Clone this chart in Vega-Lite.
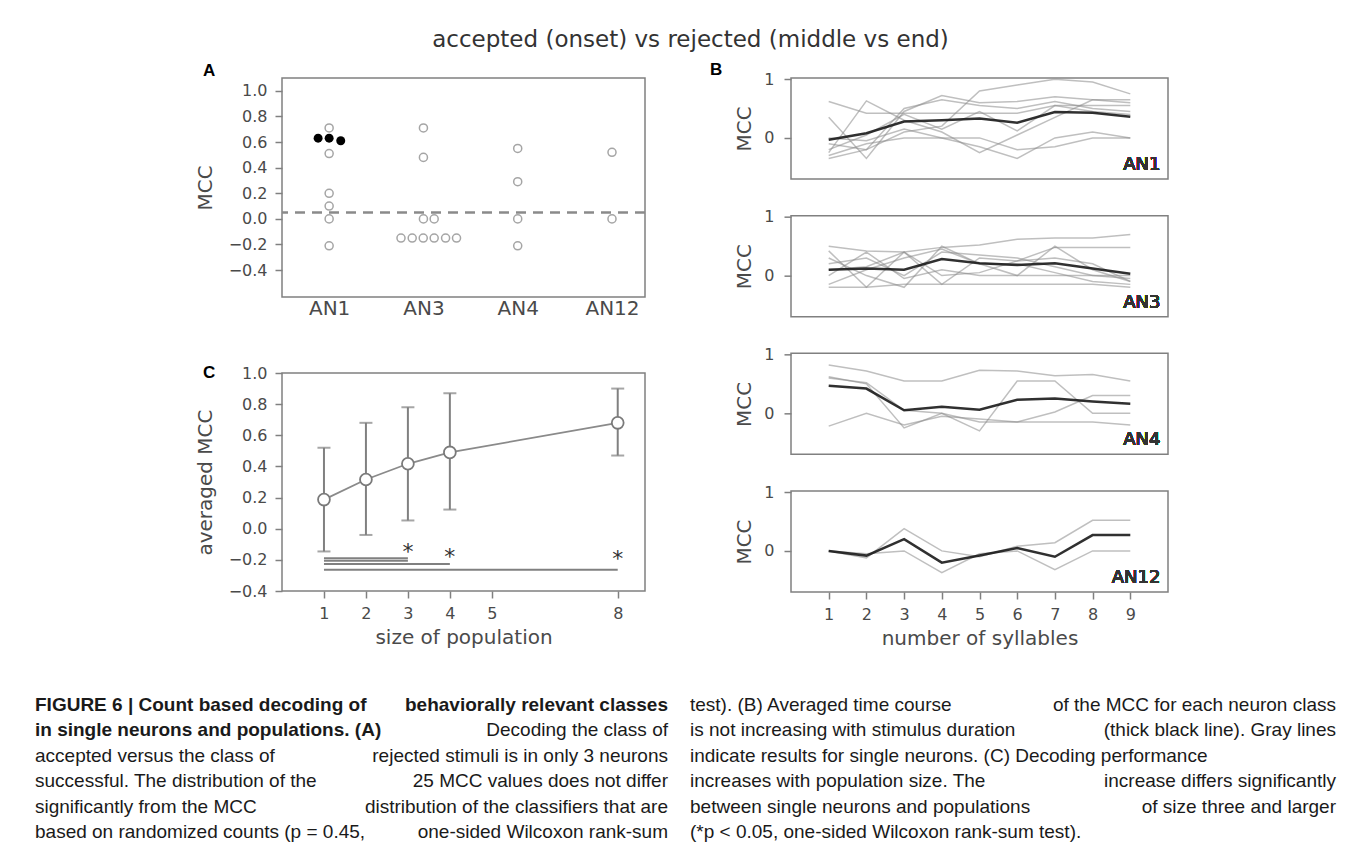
{
  "$schema": "https://vega.github.io/schema/vega-lite/v6.json",
  "padding": {"left": 35, "top": 29, "right": 5, "bottom": 0},
  "background": "white",
  "config": {
    "view": {"stroke": "#808080", "strokeWidth": 1.5},
    "axis": {"domain": false, "grid": false, "labelOverlap": false, "tickColor": "#808080", "tickWidth": 1.5, "tickSize": 7, "labelColor": "#4a4a4a", "labelFont": "DejaVu Sans", "labelFontSize": 16, "titleFont": "DejaVu Sans", "titleFontSize": 20, "titleFontWeight": "normal", "titleColor": "#4a4a4a", "labelPadding": 8}
  },
  "datasets": {
    "a": [
      {"cls": "AN1", "pos": 0, "mcc": 0.71, "sig": false},
      {"cls": "AN1", "pos": 0, "mcc": 0.51, "sig": false},
      {"cls": "AN1", "pos": 0, "mcc": 0.2, "sig": false},
      {"cls": "AN1", "pos": 0, "mcc": 0.1, "sig": false},
      {"cls": "AN1", "pos": 0, "mcc": 0.0, "sig": false},
      {"cls": "AN1", "pos": 0, "mcc": -0.21, "sig": false},
      {"cls": "AN1", "pos": -0.117, "mcc": 0.63, "sig": true},
      {"cls": "AN1", "pos": 0, "mcc": 0.63, "sig": true},
      {"cls": "AN1", "pos": 0.123, "mcc": 0.61, "sig": true},
      {"cls": "AN3", "pos": 1, "mcc": 0.71, "sig": false},
      {"cls": "AN3", "pos": 1, "mcc": 0.48, "sig": false},
      {"cls": "AN3", "pos": 1, "mcc": 0.0, "sig": false},
      {"cls": "AN3", "pos": 1.114, "mcc": 0.0, "sig": false},
      {"cls": "AN3", "pos": 0.762, "mcc": -0.15, "sig": false},
      {"cls": "AN3", "pos": 0.881, "mcc": -0.15, "sig": false},
      {"cls": "AN3", "pos": 0.998, "mcc": -0.15, "sig": false},
      {"cls": "AN3", "pos": 1.114, "mcc": -0.15, "sig": false},
      {"cls": "AN3", "pos": 1.235, "mcc": -0.15, "sig": false},
      {"cls": "AN3", "pos": 1.351, "mcc": -0.15, "sig": false},
      {"cls": "AN4", "pos": 2, "mcc": 0.55, "sig": false},
      {"cls": "AN4", "pos": 2, "mcc": 0.29, "sig": false},
      {"cls": "AN4", "pos": 2, "mcc": 0.0, "sig": false},
      {"cls": "AN4", "pos": 2, "mcc": -0.21, "sig": false},
      {"cls": "AN12", "pos": 3, "mcc": 0.52, "sig": false},
      {"cls": "AN12", "pos": 3, "mcc": 0.0, "sig": false}
    ],
    "c": [
      {"n": 1, "mean": 0.187, "lo": -0.146, "hi": 0.52},
      {"n": 2, "mean": 0.316, "lo": -0.04, "hi": 0.68},
      {"n": 3, "mean": 0.417, "lo": 0.053, "hi": 0.78},
      {"n": 4, "mean": 0.49, "lo": 0.123, "hi": 0.87},
      {"n": 8, "mean": 0.68, "lo": 0.47, "hi": 0.9}
    ],
    "sig": [
      {"from": 1, "to": 3, "y": -0.19},
      {"from": 1, "to": 3, "y": -0.206},
      {"from": 1, "to": 4, "y": -0.226},
      {"from": 1, "to": 8, "y": -0.263}
    ],
    "stars": [
      {"n": 3, "y": -0.15},
      {"n": 4, "y": -0.18},
      {"n": 8, "y": -0.195}
    ],
    "b": [
      {"cls": "AN1", "line": "g1", "syl": 1, "mcc": 0.62}, {"cls": "AN1", "line": "g1", "syl": 2, "mcc": 0.42}, {"cls": "AN1", "line": "g1", "syl": 3, "mcc": 0.42}, {"cls": "AN1", "line": "g1", "syl": 4, "mcc": 0.42}, {"cls": "AN1", "line": "g1", "syl": 5, "mcc": 0.42}, {"cls": "AN1", "line": "g1", "syl": 6, "mcc": 0.42}, {"cls": "AN1", "line": "g1", "syl": 7, "mcc": 0.55}, {"cls": "AN1", "line": "g1", "syl": 8, "mcc": 0.55}, {"cls": "AN1", "line": "g1", "syl": 9, "mcc": 0.55},
      {"cls": "AN1", "line": "g2", "syl": 1, "mcc": -0.25}, {"cls": "AN1", "line": "g2", "syl": 2, "mcc": 0.63}, {"cls": "AN1", "line": "g2", "syl": 3, "mcc": 0.3}, {"cls": "AN1", "line": "g2", "syl": 4, "mcc": 0.1}, {"cls": "AN1", "line": "g2", "syl": 5, "mcc": -0.25}, {"cls": "AN1", "line": "g2", "syl": 6, "mcc": 0.05}, {"cls": "AN1", "line": "g2", "syl": 7, "mcc": 0.35}, {"cls": "AN1", "line": "g2", "syl": 8, "mcc": 0.65}, {"cls": "AN1", "line": "g2", "syl": 9, "mcc": 0.65},
      {"cls": "AN1", "line": "g3", "syl": 1, "mcc": 0.35}, {"cls": "AN1", "line": "g3", "syl": 2, "mcc": -0.35}, {"cls": "AN1", "line": "g3", "syl": 3, "mcc": 0.45}, {"cls": "AN1", "line": "g3", "syl": 4, "mcc": 0.72}, {"cls": "AN1", "line": "g3", "syl": 5, "mcc": 0.6}, {"cls": "AN1", "line": "g3", "syl": 6, "mcc": 0.62}, {"cls": "AN1", "line": "g3", "syl": 7, "mcc": 0.7}, {"cls": "AN1", "line": "g3", "syl": 8, "mcc": 0.65}, {"cls": "AN1", "line": "g3", "syl": 9, "mcc": 0.6},
      {"cls": "AN1", "line": "g4", "syl": 1, "mcc": -0.1}, {"cls": "AN1", "line": "g4", "syl": 2, "mcc": -0.2}, {"cls": "AN1", "line": "g4", "syl": 3, "mcc": 0.5}, {"cls": "AN1", "line": "g4", "syl": 4, "mcc": 0.65}, {"cls": "AN1", "line": "g4", "syl": 5, "mcc": 0.55}, {"cls": "AN1", "line": "g4", "syl": 6, "mcc": 0.5}, {"cls": "AN1", "line": "g4", "syl": 7, "mcc": 0.62}, {"cls": "AN1", "line": "g4", "syl": 8, "mcc": 0.5}, {"cls": "AN1", "line": "g4", "syl": 9, "mcc": 0.45},
      {"cls": "AN1", "line": "g5", "syl": 1, "mcc": -0.3}, {"cls": "AN1", "line": "g5", "syl": 2, "mcc": -0.1}, {"cls": "AN1", "line": "g5", "syl": 3, "mcc": 0.0}, {"cls": "AN1", "line": "g5", "syl": 4, "mcc": 0.0}, {"cls": "AN1", "line": "g5", "syl": 5, "mcc": 0.0}, {"cls": "AN1", "line": "g5", "syl": 6, "mcc": -0.2}, {"cls": "AN1", "line": "g5", "syl": 7, "mcc": -0.15}, {"cls": "AN1", "line": "g5", "syl": 8, "mcc": 0.0}, {"cls": "AN1", "line": "g5", "syl": 9, "mcc": 0.0},
      {"cls": "AN1", "line": "g6", "syl": 1, "mcc": -0.35}, {"cls": "AN1", "line": "g6", "syl": 2, "mcc": -0.2}, {"cls": "AN1", "line": "g6", "syl": 3, "mcc": 0.1}, {"cls": "AN1", "line": "g6", "syl": 4, "mcc": 0.2}, {"cls": "AN1", "line": "g6", "syl": 5, "mcc": 0.8}, {"cls": "AN1", "line": "g6", "syl": 6, "mcc": 0.9}, {"cls": "AN1", "line": "g6", "syl": 7, "mcc": 1.0}, {"cls": "AN1", "line": "g6", "syl": 8, "mcc": 0.95}, {"cls": "AN1", "line": "g6", "syl": 9, "mcc": 0.75},
      {"cls": "AN1", "line": "g7", "syl": 1, "mcc": 0.0}, {"cls": "AN1", "line": "g7", "syl": 2, "mcc": -0.05}, {"cls": "AN1", "line": "g7", "syl": 3, "mcc": 0.15}, {"cls": "AN1", "line": "g7", "syl": 4, "mcc": 0.0}, {"cls": "AN1", "line": "g7", "syl": 5, "mcc": -0.15}, {"cls": "AN1", "line": "g7", "syl": 6, "mcc": -0.35}, {"cls": "AN1", "line": "g7", "syl": 7, "mcc": 0.0}, {"cls": "AN1", "line": "g7", "syl": 8, "mcc": 0.1}, {"cls": "AN1", "line": "g7", "syl": 9, "mcc": 0.0},
      {"cls": "AN1", "line": "g8", "syl": 1, "mcc": -0.2}, {"cls": "AN1", "line": "g8", "syl": 2, "mcc": 0.05}, {"cls": "AN1", "line": "g8", "syl": 3, "mcc": 0.4}, {"cls": "AN1", "line": "g8", "syl": 4, "mcc": 0.15}, {"cls": "AN1", "line": "g8", "syl": 5, "mcc": 0.45}, {"cls": "AN1", "line": "g8", "syl": 6, "mcc": 0.12}, {"cls": "AN1", "line": "g8", "syl": 7, "mcc": 0.55}, {"cls": "AN1", "line": "g8", "syl": 8, "mcc": 0.45}, {"cls": "AN1", "line": "g8", "syl": 9, "mcc": 0.4},
      {"cls": "AN1", "line": "mean", "syl": 1, "mcc": -0.03}, {"cls": "AN1", "line": "mean", "syl": 2, "mcc": 0.08}, {"cls": "AN1", "line": "mean", "syl": 3, "mcc": 0.28}, {"cls": "AN1", "line": "mean", "syl": 4, "mcc": 0.3}, {"cls": "AN1", "line": "mean", "syl": 5, "mcc": 0.33}, {"cls": "AN1", "line": "mean", "syl": 6, "mcc": 0.26}, {"cls": "AN1", "line": "mean", "syl": 7, "mcc": 0.44}, {"cls": "AN1", "line": "mean", "syl": 8, "mcc": 0.43}, {"cls": "AN1", "line": "mean", "syl": 9, "mcc": 0.36},
      {"cls": "AN3", "line": "h1", "syl": 1, "mcc": 0.5}, {"cls": "AN3", "line": "h1", "syl": 2, "mcc": 0.42}, {"cls": "AN3", "line": "h1", "syl": 3, "mcc": 0.4}, {"cls": "AN3", "line": "h1", "syl": 4, "mcc": 0.48}, {"cls": "AN3", "line": "h1", "syl": 5, "mcc": 0.52}, {"cls": "AN3", "line": "h1", "syl": 6, "mcc": 0.62}, {"cls": "AN3", "line": "h1", "syl": 7, "mcc": 0.64}, {"cls": "AN3", "line": "h1", "syl": 8, "mcc": 0.64}, {"cls": "AN3", "line": "h1", "syl": 9, "mcc": 0.7},
      {"cls": "AN3", "line": "h2", "syl": 1, "mcc": 0.42}, {"cls": "AN3", "line": "h2", "syl": 2, "mcc": -0.2}, {"cls": "AN3", "line": "h2", "syl": 3, "mcc": 0.4}, {"cls": "AN3", "line": "h2", "syl": 4, "mcc": 0.0}, {"cls": "AN3", "line": "h2", "syl": 5, "mcc": 0.05}, {"cls": "AN3", "line": "h2", "syl": 6, "mcc": 0.25}, {"cls": "AN3", "line": "h2", "syl": 7, "mcc": 0.48}, {"cls": "AN3", "line": "h2", "syl": 8, "mcc": 0.48}, {"cls": "AN3", "line": "h2", "syl": 9, "mcc": 0.48},
      {"cls": "AN3", "line": "h3", "syl": 1, "mcc": 0.3}, {"cls": "AN3", "line": "h3", "syl": 2, "mcc": 0.0}, {"cls": "AN3", "line": "h3", "syl": 3, "mcc": -0.2}, {"cls": "AN3", "line": "h3", "syl": 4, "mcc": 0.5}, {"cls": "AN3", "line": "h3", "syl": 5, "mcc": 0.2}, {"cls": "AN3", "line": "h3", "syl": 6, "mcc": 0.0}, {"cls": "AN3", "line": "h3", "syl": 7, "mcc": 0.5}, {"cls": "AN3", "line": "h3", "syl": 8, "mcc": 0.1}, {"cls": "AN3", "line": "h3", "syl": 9, "mcc": -0.1},
      {"cls": "AN3", "line": "h4", "syl": 1, "mcc": -0.2}, {"cls": "AN3", "line": "h4", "syl": 2, "mcc": -0.2}, {"cls": "AN3", "line": "h4", "syl": 3, "mcc": -0.15}, {"cls": "AN3", "line": "h4", "syl": 4, "mcc": -0.15}, {"cls": "AN3", "line": "h4", "syl": 5, "mcc": -0.15}, {"cls": "AN3", "line": "h4", "syl": 6, "mcc": -0.15}, {"cls": "AN3", "line": "h4", "syl": 7, "mcc": -0.15}, {"cls": "AN3", "line": "h4", "syl": 8, "mcc": -0.15}, {"cls": "AN3", "line": "h4", "syl": 9, "mcc": -0.2},
      {"cls": "AN3", "line": "h5", "syl": 1, "mcc": 0.0}, {"cls": "AN3", "line": "h5", "syl": 2, "mcc": 0.4}, {"cls": "AN3", "line": "h5", "syl": 3, "mcc": -0.05}, {"cls": "AN3", "line": "h5", "syl": 4, "mcc": 0.1}, {"cls": "AN3", "line": "h5", "syl": 5, "mcc": 0.0}, {"cls": "AN3", "line": "h5", "syl": 6, "mcc": 0.0}, {"cls": "AN3", "line": "h5", "syl": 7, "mcc": 0.0}, {"cls": "AN3", "line": "h5", "syl": 8, "mcc": 0.0}, {"cls": "AN3", "line": "h5", "syl": 9, "mcc": -0.05},
      {"cls": "AN3", "line": "h6", "syl": 1, "mcc": 0.1}, {"cls": "AN3", "line": "h6", "syl": 2, "mcc": 0.15}, {"cls": "AN3", "line": "h6", "syl": 3, "mcc": 0.4}, {"cls": "AN3", "line": "h6", "syl": 4, "mcc": -0.15}, {"cls": "AN3", "line": "h6", "syl": 5, "mcc": 0.3}, {"cls": "AN3", "line": "h6", "syl": 6, "mcc": 0.25}, {"cls": "AN3", "line": "h6", "syl": 7, "mcc": 0.3}, {"cls": "AN3", "line": "h6", "syl": 8, "mcc": 0.2}, {"cls": "AN3", "line": "h6", "syl": 9, "mcc": -0.1},
      {"cls": "AN3", "line": "h7", "syl": 1, "mcc": -0.15}, {"cls": "AN3", "line": "h7", "syl": 2, "mcc": 0.1}, {"cls": "AN3", "line": "h7", "syl": 3, "mcc": 0.3}, {"cls": "AN3", "line": "h7", "syl": 4, "mcc": 0.45}, {"cls": "AN3", "line": "h7", "syl": 5, "mcc": 0.2}, {"cls": "AN3", "line": "h7", "syl": 6, "mcc": 0.2}, {"cls": "AN3", "line": "h7", "syl": 7, "mcc": 0.05}, {"cls": "AN3", "line": "h7", "syl": 8, "mcc": -0.1}, {"cls": "AN3", "line": "h7", "syl": 9, "mcc": -0.15},
      {"cls": "AN3", "line": "h8", "syl": 1, "mcc": 0.2}, {"cls": "AN3", "line": "h8", "syl": 2, "mcc": 0.3}, {"cls": "AN3", "line": "h8", "syl": 3, "mcc": 0.0}, {"cls": "AN3", "line": "h8", "syl": 4, "mcc": 0.4}, {"cls": "AN3", "line": "h8", "syl": 5, "mcc": 0.35}, {"cls": "AN3", "line": "h8", "syl": 6, "mcc": 0.3}, {"cls": "AN3", "line": "h8", "syl": 7, "mcc": 0.15}, {"cls": "AN3", "line": "h8", "syl": 8, "mcc": 0.0}, {"cls": "AN3", "line": "h8", "syl": 9, "mcc": 0.0},
      {"cls": "AN3", "line": "mean", "syl": 1, "mcc": 0.1}, {"cls": "AN3", "line": "mean", "syl": 2, "mcc": 0.12}, {"cls": "AN3", "line": "mean", "syl": 3, "mcc": 0.1}, {"cls": "AN3", "line": "mean", "syl": 4, "mcc": 0.28}, {"cls": "AN3", "line": "mean", "syl": 5, "mcc": 0.21}, {"cls": "AN3", "line": "mean", "syl": 6, "mcc": 0.18}, {"cls": "AN3", "line": "mean", "syl": 7, "mcc": 0.21}, {"cls": "AN3", "line": "mean", "syl": 8, "mcc": 0.12}, {"cls": "AN3", "line": "mean", "syl": 9, "mcc": 0.03},
      {"cls": "AN4", "line": "i1", "syl": 1, "mcc": 0.82}, {"cls": "AN4", "line": "i1", "syl": 2, "mcc": 0.72}, {"cls": "AN4", "line": "i1", "syl": 3, "mcc": 0.55}, {"cls": "AN4", "line": "i1", "syl": 4, "mcc": 0.55}, {"cls": "AN4", "line": "i1", "syl": 5, "mcc": 0.73}, {"cls": "AN4", "line": "i1", "syl": 6, "mcc": 0.72}, {"cls": "AN4", "line": "i1", "syl": 7, "mcc": 0.64}, {"cls": "AN4", "line": "i1", "syl": 8, "mcc": 0.66}, {"cls": "AN4", "line": "i1", "syl": 9, "mcc": 0.55},
      {"cls": "AN4", "line": "i2", "syl": 1, "mcc": 0.62}, {"cls": "AN4", "line": "i2", "syl": 2, "mcc": 0.5}, {"cls": "AN4", "line": "i2", "syl": 3, "mcc": -0.25}, {"cls": "AN4", "line": "i2", "syl": 4, "mcc": 0.0}, {"cls": "AN4", "line": "i2", "syl": 5, "mcc": -0.3}, {"cls": "AN4", "line": "i2", "syl": 6, "mcc": 0.55}, {"cls": "AN4", "line": "i2", "syl": 7, "mcc": 0.55}, {"cls": "AN4", "line": "i2", "syl": 8, "mcc": 0.0}, {"cls": "AN4", "line": "i2", "syl": 9, "mcc": 0.0},
      {"cls": "AN4", "line": "i3", "syl": 1, "mcc": -0.22}, {"cls": "AN4", "line": "i3", "syl": 2, "mcc": 0.0}, {"cls": "AN4", "line": "i3", "syl": 3, "mcc": -0.2}, {"cls": "AN4", "line": "i3", "syl": 4, "mcc": -0.05}, {"cls": "AN4", "line": "i3", "syl": 5, "mcc": -0.1}, {"cls": "AN4", "line": "i3", "syl": 6, "mcc": -0.15}, {"cls": "AN4", "line": "i3", "syl": 7, "mcc": 0.02}, {"cls": "AN4", "line": "i3", "syl": 8, "mcc": 0.3}, {"cls": "AN4", "line": "i3", "syl": 9, "mcc": 0.3},
      {"cls": "AN4", "line": "i4", "syl": 1, "mcc": 0.6}, {"cls": "AN4", "line": "i4", "syl": 2, "mcc": 0.52}, {"cls": "AN4", "line": "i4", "syl": 3, "mcc": 0.05}, {"cls": "AN4", "line": "i4", "syl": 4, "mcc": 0.0}, {"cls": "AN4", "line": "i4", "syl": 5, "mcc": -0.15}, {"cls": "AN4", "line": "i4", "syl": 6, "mcc": -0.15}, {"cls": "AN4", "line": "i4", "syl": 7, "mcc": -0.15}, {"cls": "AN4", "line": "i4", "syl": 8, "mcc": -0.15}, {"cls": "AN4", "line": "i4", "syl": 9, "mcc": -0.2},
      {"cls": "AN4", "line": "mean", "syl": 1, "mcc": 0.47}, {"cls": "AN4", "line": "mean", "syl": 2, "mcc": 0.42}, {"cls": "AN4", "line": "mean", "syl": 3, "mcc": 0.05}, {"cls": "AN4", "line": "mean", "syl": 4, "mcc": 0.11}, {"cls": "AN4", "line": "mean", "syl": 5, "mcc": 0.06}, {"cls": "AN4", "line": "mean", "syl": 6, "mcc": 0.23}, {"cls": "AN4", "line": "mean", "syl": 7, "mcc": 0.25}, {"cls": "AN4", "line": "mean", "syl": 8, "mcc": 0.2}, {"cls": "AN4", "line": "mean", "syl": 9, "mcc": 0.16},
      {"cls": "AN12", "line": "j1", "syl": 1, "mcc": 0.0}, {"cls": "AN12", "line": "j1", "syl": 2, "mcc": -0.12}, {"cls": "AN12", "line": "j1", "syl": 3, "mcc": 0.38}, {"cls": "AN12", "line": "j1", "syl": 4, "mcc": 0.0}, {"cls": "AN12", "line": "j1", "syl": 5, "mcc": -0.1}, {"cls": "AN12", "line": "j1", "syl": 6, "mcc": 0.08}, {"cls": "AN12", "line": "j1", "syl": 7, "mcc": 0.14}, {"cls": "AN12", "line": "j1", "syl": 8, "mcc": 0.52}, {"cls": "AN12", "line": "j1", "syl": 9, "mcc": 0.52},
      {"cls": "AN12", "line": "j2", "syl": 1, "mcc": 0.0}, {"cls": "AN12", "line": "j2", "syl": 2, "mcc": -0.05}, {"cls": "AN12", "line": "j2", "syl": 3, "mcc": 0.0}, {"cls": "AN12", "line": "j2", "syl": 4, "mcc": -0.37}, {"cls": "AN12", "line": "j2", "syl": 5, "mcc": -0.05}, {"cls": "AN12", "line": "j2", "syl": 6, "mcc": 0.0}, {"cls": "AN12", "line": "j2", "syl": 7, "mcc": -0.32}, {"cls": "AN12", "line": "j2", "syl": 8, "mcc": 0.0}, {"cls": "AN12", "line": "j2", "syl": 9, "mcc": 0.0},
      {"cls": "AN12", "line": "mean", "syl": 1, "mcc": 0.0}, {"cls": "AN12", "line": "mean", "syl": 2, "mcc": -0.08}, {"cls": "AN12", "line": "mean", "syl": 3, "mcc": 0.2}, {"cls": "AN12", "line": "mean", "syl": 4, "mcc": -0.2}, {"cls": "AN12", "line": "mean", "syl": 5, "mcc": -0.08}, {"cls": "AN12", "line": "mean", "syl": 6, "mcc": 0.05}, {"cls": "AN12", "line": "mean", "syl": 7, "mcc": -0.1}, {"cls": "AN12", "line": "mean", "syl": 8, "mcc": 0.27}, {"cls": "AN12", "line": "mean", "syl": 9, "mcc": 0.27}
    ],
    "caption": [
      {"col": "L", "line": 1, "part": "lead", "text": "FIGURE 6 | Count based decoding of"},
      {"col": "L", "line": 1, "part": "leadr", "text": "behaviorally relevant classes"},
      {"col": "L", "line": 2, "part": "lead", "text": "in single neurons and populations. (A)"},
      {"col": "L", "line": 2, "part": "rest", "text": "Decoding the class of"},
      {"col": "L", "line": 3, "part": "text", "text": "accepted versus the class of"},
      {"col": "L", "line": 3, "part": "rest", "text": "rejected stimuli is in only 3 neurons"},
      {"col": "L", "line": 4, "part": "text", "text": "successful. The distribution of the"},
      {"col": "L", "line": 4, "part": "rest", "text": "25 MCC values does not differ"},
      {"col": "L", "line": 5, "part": "text", "text": "significantly from the MCC"},
      {"col": "L", "line": 5, "part": "rest", "text": "distribution of the classifiers that are"},
      {"col": "L", "line": 6, "part": "text", "text": "based on randomized counts (p = 0.45,"},
      {"col": "L", "line": 6, "part": "rest", "text": "one-sided Wilcoxon rank-sum"},
      {"col": "R", "line": 1, "part": "text", "text": "test). (B) Averaged time course"},
      {"col": "R", "line": 1, "part": "rest", "text": "of the MCC for each neuron class"},
      {"col": "R", "line": 2, "part": "text", "text": "is not increasing with stimulus duration"},
      {"col": "R", "line": 2, "part": "rest", "text": "(thick black line). Gray lines"},
      {"col": "R", "line": 3, "part": "text", "text": "indicate results for single neurons. (C) Decoding performance"},
      {"col": "R", "line": 4, "part": "text", "text": "increases with population size. The"},
      {"col": "R", "line": 4, "part": "rest", "text": "increase differs significantly"},
      {"col": "R", "line": 5, "part": "text", "text": "between single neurons and populations"},
      {"col": "R", "line": 5, "part": "rest", "text": "of size three and larger"},
      {"col": "R", "line": 6, "part": "text", "text": "(*p < 0.05, one-sided Wilcoxon rank-sum test)."}
    ]
  },
  "title": {"text": "accepted (onset) vs rejected (middle vs end)", "font": "DejaVu Sans", "fontSize": 23, "fontWeight": "normal", "color": "#333333", "anchor": "middle", "frame": "bounds", "offset": 8, "dx": 5},
  "spacing": 22,
  "hconcat": [
    {
      "bounds": "flush",
      "spacing": 76,
      "vconcat": [
        {
          "width": 363,
          "height": 219,
          "title": {"text": "A", "anchor": "start", "frame": "group", "dx": -79, "offset": -2, "font": "Liberation Sans", "fontSize": 17, "fontWeight": "bold", "color": "#000000"},
          "layer": [
            {
              "data": {"values": [{"chance": 0.05}]},
              "mark": {"type": "rule", "color": "#8a8a8a", "strokeWidth": 2.5, "strokeDash": [10, 7]},
              "encoding": {"y": {"field": "chance", "type": "quantitative"}}
            },
            {
              "data": {"name": "a"},
              "transform": [{"filter": "!datum.sig"}],
              "mark": {"type": "point", "shape": "circle", "filled": false, "stroke": "#808080", "strokeWidth": 1.5, "size": 65},
              "encoding": {
                "x": {"field": "pos", "type": "quantitative", "scale": {"domain": [-0.5, 3.35], "nice": false, "zero": false}, "axis": {"values": [0, 1, 2, 3], "tickCount": 10, "labelExpr": "['AN1','AN3','AN4','AN12'][datum.value]", "ticks": false, "labelFontSize": 20, "labelPadding": 1, "title": null}},
                "y": {"field": "mcc", "type": "quantitative", "scale": {"domain": [-0.61, 1.1], "nice": false, "zero": false}, "axis": {"values": [-0.4, -0.2, 0, 0.2, 0.4, 0.6, 0.8, 1.0], "tickCount": 20, "format": ".1f", "title": "MCC", "titlePadding": 13}}
              }
            },
            {
              "data": {"name": "a"},
              "transform": [{"filter": "datum.sig"}],
              "mark": {"type": "point", "shape": "circle", "filled": true, "color": "#000000", "size": 80, "opacity": 1},
              "encoding": {
                "x": {"field": "pos", "type": "quantitative"},
                "y": {"field": "mcc", "type": "quantitative"}
              }
            }
          ]
        },
        {
          "width": 363,
          "height": 218,
          "title": {"text": "C", "anchor": "start", "frame": "group", "dx": -79, "offset": -17, "font": "Liberation Sans", "fontSize": 17, "fontWeight": "bold", "color": "#000000"},
          "layer": [
            {
              "data": {"name": "sig"},
              "mark": {"type": "rule", "color": "#808080", "strokeWidth": 2},
              "encoding": {
                "x": {"field": "from", "type": "quantitative", "scale": {"domain": [0, 8.65], "nice": false, "zero": false}, "axis": {"values": [1, 2, 3, 4, 5, 8], "tickCount": 20, "format": "d", "title": "size of population", "labelPadding": 7, "titlePadding": 6}},
                "x2": {"field": "to"},
                "y": {"field": "y", "type": "quantitative", "scale": {"domain": [-0.4, 1.0], "nice": false, "zero": false}, "axis": {"values": [-0.4, -0.2, 0, 0.2, 0.4, 0.6, 0.8, 1.0], "tickCount": 20, "format": ".1f", "title": "averaged MCC", "titlePadding": 13}}
              }
            },
            {
              "data": {"name": "stars"},
              "mark": {"type": "text", "text": "*", "font": "DejaVu Sans", "fontSize": 22, "color": "#333333", "baseline": "middle", "align": "center"},
              "encoding": {
                "x": {"field": "n", "type": "quantitative"},
                "y": {"field": "y", "type": "quantitative"}
              }
            },
            {
              "data": {"name": "c"},
              "mark": {"type": "rule", "color": "#808080", "strokeWidth": 2},
              "encoding": {
                "x": {"field": "n", "type": "quantitative"},
                "y": {"field": "lo", "type": "quantitative"},
                "y2": {"field": "hi"}
              }
            },
            {
              "data": {"name": "c"},
              "mark": {"type": "tick", "orient": "horizontal", "color": "#808080", "size": 13, "thickness": 2},
              "encoding": {
                "x": {"field": "n", "type": "quantitative"},
                "y": {"field": "lo", "type": "quantitative"}
              }
            },
            {
              "data": {"name": "c"},
              "mark": {"type": "tick", "orient": "horizontal", "color": "#808080", "size": 13, "thickness": 2},
              "encoding": {
                "x": {"field": "n", "type": "quantitative"},
                "y": {"field": "hi", "type": "quantitative"}
              }
            },
            {
              "data": {"name": "c"},
              "mark": {"type": "line", "color": "#8a8a8a", "strokeWidth": 1.8},
              "encoding": {
                "x": {"field": "n", "type": "quantitative"},
                "y": {"field": "mean", "type": "quantitative"}
              }
            },
            {
              "data": {"name": "c"},
              "mark": {"type": "point", "shape": "circle", "filled": true, "fill": "#ffffff", "stroke": "#7a7a7a", "strokeWidth": 1.8, "size": 140, "opacity": 1},
              "encoding": {
                "x": {"field": "n", "type": "quantitative"},
                "y": {"field": "mean", "type": "quantitative"}
              }
            }
          ]
        },
        {
          "width": 363,
          "height": 165,
          "view": {"stroke": null},
          "data": {"name": "caption"},
          "transform": [{"filter": "datum.col == 'L'"}],
          "layer": [
            {
              "transform": [{"filter": "datum.part == 'lead'"}],
              "mark": {"type": "text", "align": "left", "baseline": "middle", "font": "Liberation Sans", "fontSize": 19, "fontWeight": "bold", "color": "#1a1a1a"},
              "encoding": {
                "x": {"datum": 0, "type": "quantitative", "scale": {"domain": [0, 1], "range": [-247, 386]}, "axis": null},
                "y": {"field": "line", "type": "quantitative", "scale": {"domain": [1, 6], "range": [38, 165]}, "axis": null},
                "text": {"field": "text"}
              }
            },
            {
              "transform": [{"filter": "datum.part == 'leadr'"}],
              "mark": {"type": "text", "align": "right", "baseline": "middle", "font": "Liberation Sans", "fontSize": 19, "fontWeight": "bold", "color": "#1a1a1a"},
              "encoding": {
                "x": {"datum": 1, "type": "quantitative", "axis": null},
                "y": {"field": "line", "type": "quantitative", "axis": null},
                "text": {"field": "text"}
              }
            },
            {
              "transform": [{"filter": "datum.part == 'text'"}],
              "mark": {"type": "text", "align": "left", "baseline": "middle", "font": "Liberation Sans", "fontSize": 19, "color": "#1a1a1a"},
              "encoding": {
                "x": {"datum": 0, "type": "quantitative", "axis": null},
                "y": {"field": "line", "type": "quantitative", "axis": null},
                "text": {"field": "text"}
              }
            },
            {
              "transform": [{"filter": "datum.part == 'rest'"}],
              "mark": {"type": "text", "align": "right", "baseline": "middle", "font": "Liberation Sans", "fontSize": 19, "color": "#1a1a1a"},
              "encoding": {
                "x": {"datum": 1, "type": "quantitative", "axis": null},
                "y": {"field": "line", "type": "quantitative", "axis": null},
                "text": {"field": "text"}
              }
            }
          ]
        }
      ]
    },
    {
      "bounds": "flush",
      "spacing": 36.67,
      "vconcat": [
        {
          "width": 377, "height": 101,
          "title": {"text": "B", "anchor": "start", "frame": "group", "dx": -81, "offset": -8, "font": "Liberation Sans", "fontSize": 17, "fontWeight": "bold", "color": "#000000"},
          "data": {"name": "b"},
          "transform": [{"filter": "datum.cls == 'AN1'"}],
          "layer": [
            {
              "transform": [{"filter": "datum.line != 'mean'"}],
              "mark": {"type": "line", "color": "#8a8a8a", "strokeWidth": 1.5, "opacity": 0.55},
              "encoding": {
                "x": {"field": "syl", "type": "quantitative", "scale": {"domain": [0, 10], "nice": false, "zero": false}, "axis": null},
                "y": {"field": "mcc", "type": "quantitative", "scale": {"domain": [-0.7, 1.02], "nice": false, "zero": false}, "axis": {"values": [0, 1], "format": "d", "title": "MCC", "labelPadding": 10, "titlePadding": 9}},
                "detail": {"field": "line"}
              }
            },
            {
              "transform": [{"filter": "datum.line == 'mean'"}],
              "mark": {"type": "line", "color": "#1a1a1a", "strokeWidth": 2.5, "opacity": 0.9},
              "encoding": {
                "x": {"field": "syl", "type": "quantitative"},
                "y": {"field": "mcc", "type": "quantitative"}
              }
            },
            {
              "mark": {"type": "text", "text": "AN1", "font": "DejaVu Sans", "fontSize": 18, "color": "#333333", "align": "right", "baseline": "middle"},
              "encoding": {"x": {"datum": 9.8}, "y": {"datum": -0.46}}
            }
          ]
        },
        {
          "width": 377, "height": 101,
          "data": {"name": "b"},
          "transform": [{"filter": "datum.cls == 'AN3'"}],
          "layer": [
            {
              "transform": [{"filter": "datum.line != 'mean'"}],
              "mark": {"type": "line", "color": "#8a8a8a", "strokeWidth": 1.5, "opacity": 0.55},
              "encoding": {
                "x": {"field": "syl", "type": "quantitative", "scale": {"domain": [0, 10], "nice": false, "zero": false}, "axis": null},
                "y": {"field": "mcc", "type": "quantitative", "scale": {"domain": [-0.7, 1.02], "nice": false, "zero": false}, "axis": {"values": [0, 1], "format": "d", "title": "MCC", "labelPadding": 10, "titlePadding": 9}},
                "detail": {"field": "line"}
              }
            },
            {
              "transform": [{"filter": "datum.line == 'mean'"}],
              "mark": {"type": "line", "color": "#1a1a1a", "strokeWidth": 2.5, "opacity": 0.9},
              "encoding": {
                "x": {"field": "syl", "type": "quantitative"},
                "y": {"field": "mcc", "type": "quantitative"}
              }
            },
            {
              "mark": {"type": "text", "text": "AN3", "font": "DejaVu Sans", "fontSize": 18, "color": "#333333", "align": "right", "baseline": "middle"},
              "encoding": {"x": {"datum": 9.8}, "y": {"datum": -0.46}}
            }
          ]
        },
        {
          "width": 377, "height": 101,
          "data": {"name": "b"},
          "transform": [{"filter": "datum.cls == 'AN4'"}],
          "layer": [
            {
              "transform": [{"filter": "datum.line != 'mean'"}],
              "mark": {"type": "line", "color": "#8a8a8a", "strokeWidth": 1.5, "opacity": 0.55},
              "encoding": {
                "x": {"field": "syl", "type": "quantitative", "scale": {"domain": [0, 10], "nice": false, "zero": false}, "axis": null},
                "y": {"field": "mcc", "type": "quantitative", "scale": {"domain": [-0.7, 1.02], "nice": false, "zero": false}, "axis": {"values": [0, 1], "format": "d", "title": "MCC", "labelPadding": 10, "titlePadding": 9}},
                "detail": {"field": "line"}
              }
            },
            {
              "transform": [{"filter": "datum.line == 'mean'"}],
              "mark": {"type": "line", "color": "#1a1a1a", "strokeWidth": 2.5, "opacity": 0.9},
              "encoding": {
                "x": {"field": "syl", "type": "quantitative"},
                "y": {"field": "mcc", "type": "quantitative"}
              }
            },
            {
              "mark": {"type": "text", "text": "AN4", "font": "DejaVu Sans", "fontSize": 18, "color": "#333333", "align": "right", "baseline": "middle"},
              "encoding": {"x": {"datum": 9.8}, "y": {"datum": -0.46}}
            }
          ]
        },
        {
          "width": 377, "height": 101,
          "data": {"name": "b"},
          "transform": [{"filter": "datum.cls == 'AN12'"}],
          "layer": [
            {
              "transform": [{"filter": "datum.line != 'mean'"}],
              "mark": {"type": "line", "color": "#8a8a8a", "strokeWidth": 1.5, "opacity": 0.55},
              "encoding": {
                "x": {"field": "syl", "type": "quantitative", "scale": {"domain": [0, 10], "nice": false, "zero": false}, "axis": {"values": [1, 2, 3, 4, 5, 6, 7, 8, 9], "tickCount": 20, "format": "d", "title": "number of syllables", "labelPadding": 7, "titlePadding": 6}},
                "y": {"field": "mcc", "type": "quantitative", "scale": {"domain": [-0.7, 1.02], "nice": false, "zero": false}, "axis": {"values": [0, 1], "format": "d", "title": "MCC", "labelPadding": 10, "titlePadding": 9}},
                "detail": {"field": "line"}
              }
            },
            {
              "transform": [{"filter": "datum.line == 'mean'"}],
              "mark": {"type": "line", "color": "#1a1a1a", "strokeWidth": 2.5, "opacity": 0.9},
              "encoding": {
                "x": {"field": "syl", "type": "quantitative"},
                "y": {"field": "mcc", "type": "quantitative"}
              }
            },
            {
              "mark": {"type": "text", "text": "AN12", "font": "DejaVu Sans", "fontSize": 18, "color": "#333333", "align": "right", "baseline": "middle"},
              "encoding": {"x": {"datum": 9.8}, "y": {"datum": -0.46}}
            }
          ]
        },
        {
          "width": 377,
          "height": 203,
          "view": {"stroke": null},
          "data": {"name": "caption"},
          "transform": [{"filter": "datum.col == 'R'"}],
          "layer": [
            {
              "transform": [{"filter": "datum.part == 'text'"}],
              "mark": {"type": "text", "align": "left", "baseline": "middle", "font": "Liberation Sans", "fontSize": 19, "color": "#1a1a1a"},
              "encoding": {
                "x": {"datum": 0, "type": "quantitative", "scale": {"domain": [0, 1], "range": [-101, 545]}, "axis": null},
                "y": {"field": "line", "type": "quantitative", "scale": {"domain": [1, 6], "range": [76.33, 203.33]}, "axis": null},
                "text": {"field": "text"}
              }
            },
            {
              "transform": [{"filter": "datum.part == 'rest'"}],
              "mark": {"type": "text", "align": "right", "baseline": "middle", "font": "Liberation Sans", "fontSize": 19, "color": "#1a1a1a"},
              "encoding": {
                "x": {"datum": 1, "type": "quantitative", "axis": null},
                "y": {"field": "line", "type": "quantitative", "axis": null},
                "text": {"field": "text"}
              }
            }
          ]
        }
      ]
    }
  ]
}
